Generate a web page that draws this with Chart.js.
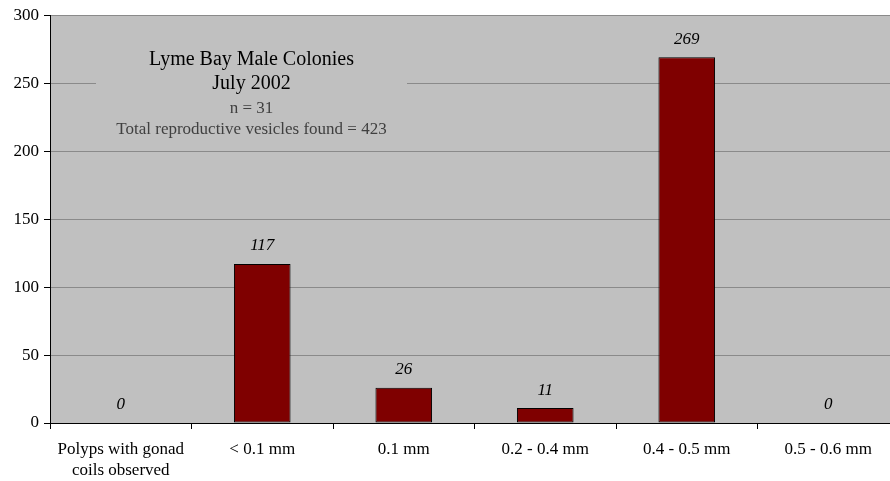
<!DOCTYPE html>
<html>
<head>
<meta charset="utf-8">
<script src="https://cdn.jsdelivr.net/npm/chart.js@4/dist/chart.umd.min.js"></script>
<style>
  html, body { margin: 0; padding: 0; background: #ffffff; overflow: hidden; }
  #wrap { width: 890px; height: 481px; overflow: hidden; }
  canvas { display: block; }
</style>
</head>
<body>
<div id="wrap"><canvas id="c" width="900" height="481"></canvas></div>
<script>
// Vesicle size classes and counts
const categories = [
  ["Polyps with gonad", "coils observed"],
  "< 0.1 mm",
  "0.1 mm",
  "0.2 - 0.4 mm",
  "0.4 - 0.5 mm",
  "0.5 - 0.6 mm"
];
const vesicleCounts = [0, 117, 26, 11, 269, 0];
const yTicks = [0, 50, 100, 150, 200, 250, 300];
const titleLines = ["Lyme Bay Male Colonies", "July 2002"];
const noteLines = ["n = 31", "Total reproductive vesicles found = 423"];

const SERIF = '"Liberation Serif", "Times New Roman", serif';
const PLOT_BG = '#c0c0c0';

// Grey plot background
const plotBackground = {
  id: 'plotBackground',
  beforeDraw(chart) {
    const { ctx, chartArea: a } = chart;
    ctx.save();
    ctx.fillStyle = PLOT_BG;
    ctx.fillRect(a.left, a.top, a.right - a.left, a.bottom - a.top);
    ctx.restore();
  }
};

// Caption box inside the plot, masking the gridlines behind it
const captionBox = {
  id: 'captionBox',
  beforeDatasetsDraw(chart) {
    const { ctx, chartArea: a } = chart;
    const x0 = a.left + 46, x1 = a.left + 357;
    const cx = (x0 + x1) / 2;
    ctx.save();
    ctx.fillStyle = PLOT_BG;
    ctx.fillRect(x0, a.top + 26, x1 - x0, 100);
    ctx.textAlign = 'center';
    ctx.textBaseline = 'middle';
    ctx.fillStyle = '#000000';
    ctx.font = '20px ' + SERIF;
    ctx.fillText(titleLines[0], cx, a.top + 45);
    ctx.fillText(titleLines[1], cx, a.top + 69);
    ctx.fillStyle = '#404040';
    ctx.font = '17px ' + SERIF;
    ctx.fillText(noteLines[0], cx, a.top + 93);
    ctx.fillText(noteLines[1], cx, a.top + 114);
    ctx.restore();
  }
};

// Italic value labels above each bar
const valueLabels = {
  id: 'valueLabels',
  afterDatasetsDraw(chart) {
    const { ctx } = chart;
    const meta = chart.getDatasetMeta(0);
    const data = chart.data.datasets[0].data;
    ctx.save();
    ctx.font = 'italic 17px ' + SERIF;
    ctx.fillStyle = '#000000';
    ctx.textAlign = 'center';
    ctx.textBaseline = 'middle';
    meta.data.forEach((bar, i) => {
      ctx.fillText(String(data[i]), bar.x, bar.y - 18);
    });
    ctx.restore();
  }
};

new Chart(document.getElementById('c'), {
  type: 'bar',
  data: {
    labels: categories,
    datasets: [{
      data: vesicleCounts,
      backgroundColor: '#7f0000',
      borderColor: '#000000',
      borderWidth: 1,
      borderSkipped: false,
      barPercentage: 0.4,
      categoryPercentage: 1.0
    }]
  },
  options: {
    responsive: false,
    animation: false,
    events: [],
    layout: { padding: { top: 14, right: 1, bottom: 0, left: 0 } },
    plugins: {
      legend: { display: false },
      tooltip: { enabled: false },
      title: { display: false }
    },
    scales: {
      x: {
        offset: true,
        border: { color: '#000000', width: 1 },
        grid: {
          offset: true,
          drawOnChartArea: false,
          drawTicks: true,
          tickLength: 6,
          tickColor: '#000000'
        },
        ticks: {
          color: '#000000',
          font: { family: SERIF, size: 17, lineHeight: 1.24 },
          padding: 10,
          maxRotation: 0,
          autoSkip: false
        },
        afterFit(scale) { scale.height = 58; }
      },
      y: {
        min: 0,
        max: 300,
        afterBuildTicks(scale) { scale.ticks = yTicks.map(v => ({ value: v })); },
        border: { color: '#000000', width: 1 },
        grid: {
          color: '#8a8a8a',
          lineWidth: 1,
          drawTicks: true,
          tickLength: 6,
          tickColor: '#000000'
        },
        ticks: {
          color: '#000000',
          font: { family: SERIF, size: 17 },
          padding: 5
        },
        afterFit(scale) { scale.width = 50; }
      }
    }
  },
  plugins: [plotBackground, captionBox, valueLabels]
});
</script>
</body>
</html>
